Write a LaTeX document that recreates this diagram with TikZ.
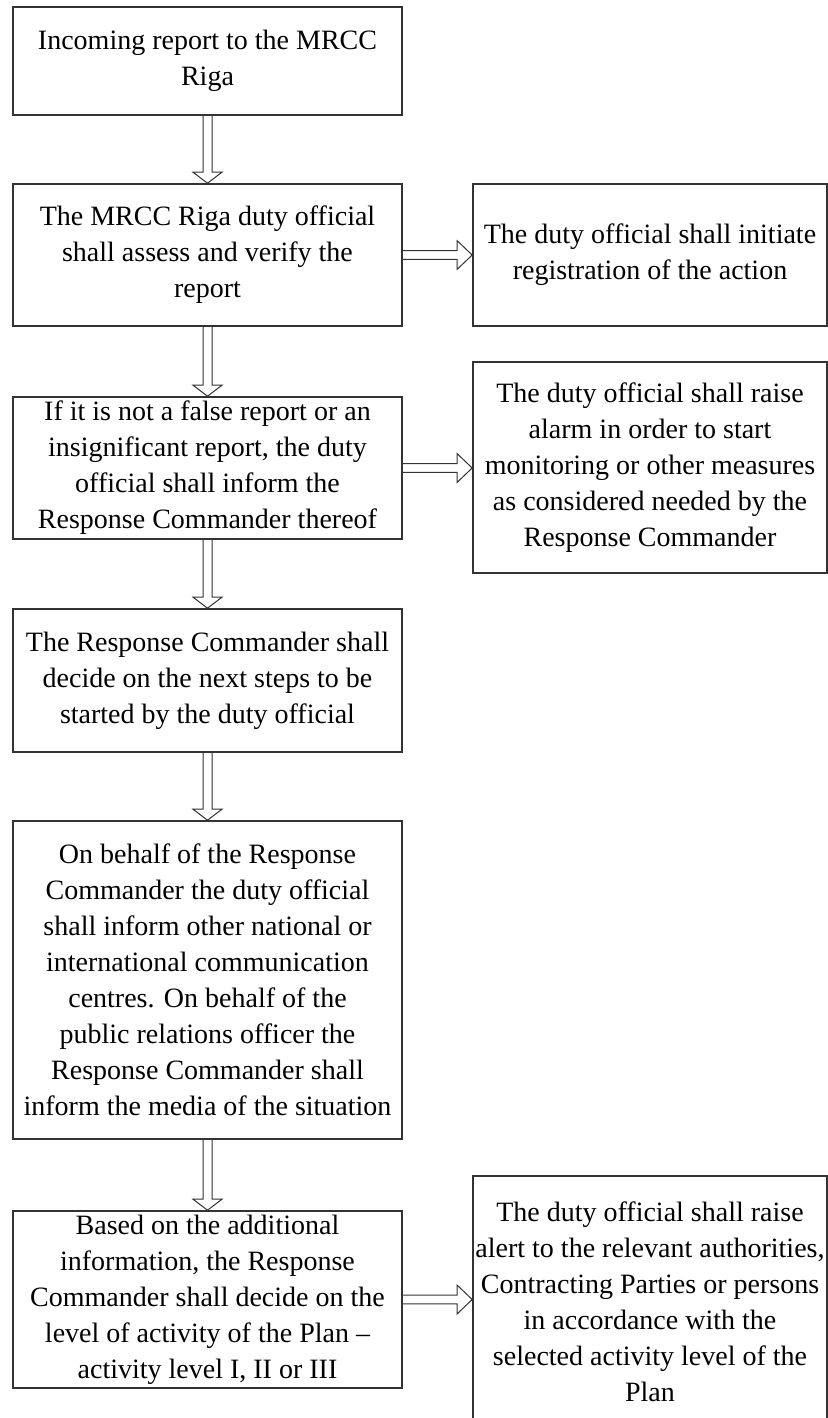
\documentclass[tikz,border=0pt]{standalone}
\usepackage{fontspec}
\setmainfont{Liberation Serif}
\usetikzlibrary{calc}

\tikzset{
  box/.style={draw=black!80, line width=0.8pt, inner sep=0pt, align=center,
    font=\fontsize{14pt}{18pt}\selectfont},
  leftbox/.style={box, minimum width=194.5pt},
  rightbox/.style={box, minimum width=177pt},
  hollow/.style={draw=black!80, line width=0.5pt, line join=miter}
}

\begin{document}
\begin{tikzpicture}[x=0.5pt, y=-0.5pt]
  \useasboundingbox (0,0) rectangle (828,1418); % page size in px

  % --- main column ---
  \node[leftbox, minimum height=54pt]   (incoming) at (207.5,61)   {Incoming report to the MRCC\\Riga};
  \node[leftbox, minimum height=71pt]   (assess)   at (207.5,255)  {The MRCC Riga duty official\\shall assess and verify the\\report};
  \node[leftbox, minimum height=71pt]   (inform)   at (207.5,468)  {If it is not a false report or an\\insignificant report, the duty\\official shall inform the\\Response Commander thereof};
  \node[leftbox, minimum height=71.5pt] (decide)   at (207.5,680.5){The Response Commander shall\\decide on the next steps to be\\started by the duty official};
  \node[leftbox, minimum height=159pt]  (media)    at (207.5,980)  {On behalf of the Response\\Commander the duty official\\shall inform other national or\\international communication\\centres. On behalf of the\\public relations officer the\\Response Commander shall\\inform the media of the situation};
  \node[leftbox, minimum height=88.5pt] (level)    at (207.5,1299.5){Based on the additional\\information, the Response\\Commander shall decide on the\\level of activity of the Plan –\\activity level I, II or III};

  % --- side column ---
  \node[rightbox, minimum height=71pt]    (register) at (650,255)   {The duty official shall initiate\\registration of the action};
  \node[rightbox, minimum height=105.5pt] (alarm)    at (650,467.5) {The duty official shall raise\\alarm in order to start\\monitoring or other measures\\as considered needed by the\\Response Commander};
  \node[rightbox, minimum height=126pt]   (alert)    at (650,1302)  {The duty official shall raise\\alert to the relevant authorities,\\Contracting Parties or persons\\in accordance with the\\selected activity level of the\\Plan};

  % --- hollow arrows down ---
  \foreach \a/\b in {incoming/assess, assess/inform, inform/decide, decide/media, media/level}{
    \draw[hollow] ($(\a.south)+(-4.5,0)$) -- ($(\b.north)+(-4.5,-11)$) -- ++(-10,0)
      -- (\b.north) -- ++(14.5,-11) -- ++(-10,0) -- ($(\a.south)+(4.5,0)$);}

  % --- hollow arrows right ---
  \foreach \a/\b in {assess/register, inform/alarm, level/alert}{
    \draw[hollow] ($(\a.east)+(0,-4.3)$) -- ($(\a.east -| \b.west)+(-15,-4.3)$) -- ++(0,-10)
      -- (\a.east -| \b.west) -- ++(-15,14.3) -- ++(0,-10) -- ($(\a.east)+(0,4.3)$);}
\end{tikzpicture}
\end{document}
